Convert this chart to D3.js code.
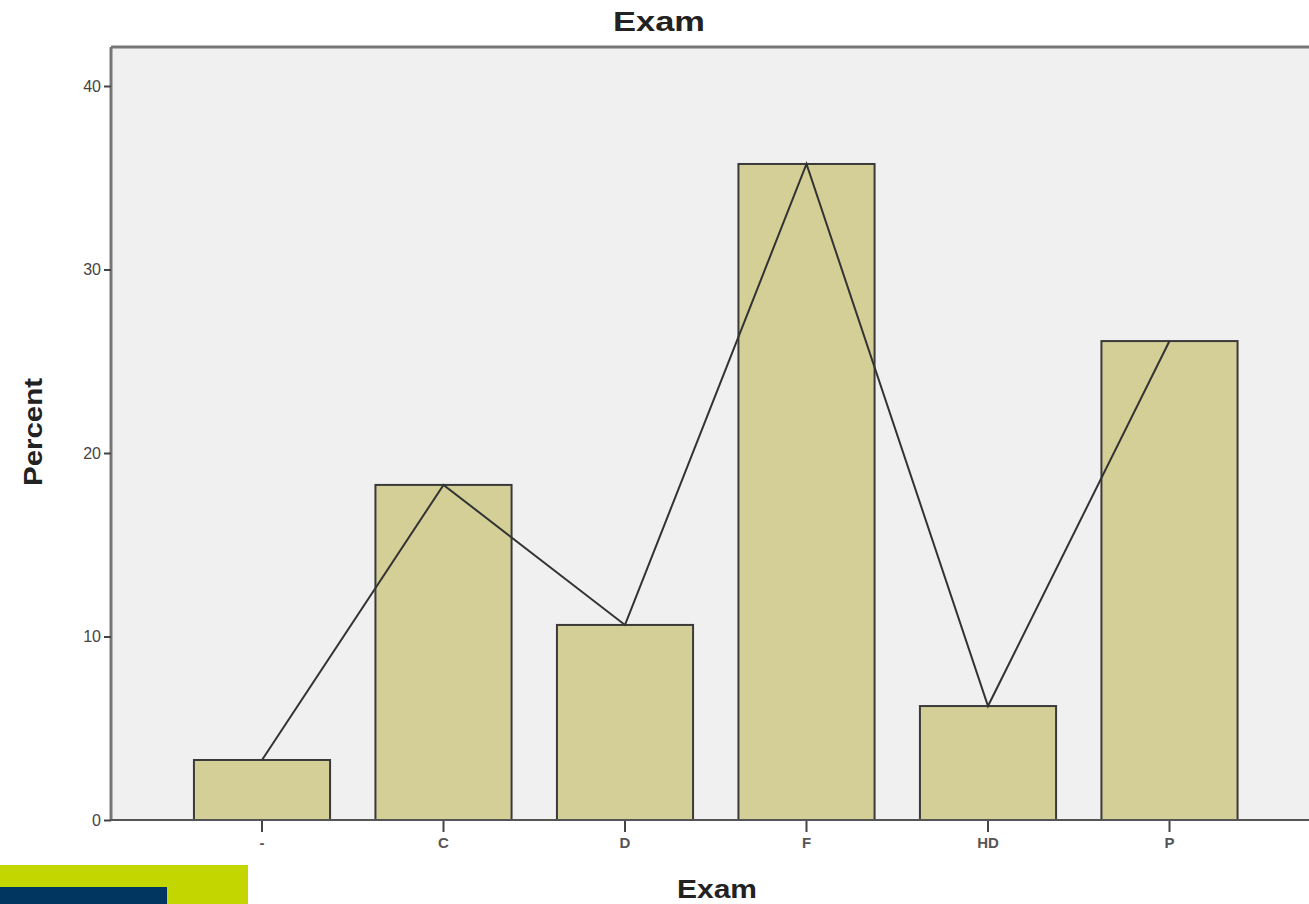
<!DOCTYPE html>
<html><head><meta charset="utf-8">
<script src="https://cdn.jsdelivr.net/npm/d3@7"></script>
<style>body{margin:0;background:#fff;} svg{display:block;font-family:"Liberation Sans",Arial,sans-serif;}</style>
</head><body>
<svg id="c" width="1309" height="904"></svg>
<script>
const categories = ["-", "C", "D", "F", "HD", "P"];
const percents = [3.27, 18.26, 10.63, 35.75, 6.21, 26.1];
const yTicks = [0, 10, 20, 30, 40];

const svg = d3.select("#c");
const plotL = 111, plotT = 47, plotB = 820, plotR = 1330;
const x = d3.scaleBand().domain(categories).range([171.25, 1260.25]).paddingInner(0.25).paddingOuter(0.125);
const y = d3.scaleLinear().domain([0, 40]).range([plotB, 86]);

svg.append("rect").attr("x", plotL).attr("y", plotT).attr("width", plotR - plotL).attr("height", plotB - plotT)
  .attr("fill", "#f0f0f0");

svg.append("g").selectAll("rect").data(categories).join("rect")
  .attr("x", d => x(d)).attr("width", x.bandwidth())
  .attr("y", (d, i) => y(percents[i])).attr("height", (d, i) => y(0) - y(percents[i]))
  .attr("fill", "#d3cf96").attr("stroke", "#3a3a3a").attr("stroke-width", 2);

const line = d3.line().x((d, i) => x(categories[i]) + x.bandwidth() / 2).y(d => y(d));
svg.append("path").datum(percents).attr("d", line).attr("fill", "none").attr("stroke", "#333").attr("stroke-width", 2);

// frame
svg.append("line").attr("x1", plotL).attr("x2", plotR).attr("y1", plotT).attr("y2", plotT).attr("stroke", "#777").attr("stroke-width", 3);
svg.append("line").attr("x1", plotL).attr("x2", plotL).attr("y1", plotT).attr("y2", plotB).attr("stroke", "#777").attr("stroke-width", 3);

// y axis
const ya = svg.append("g").attr("transform", `translate(${plotL},0)`)
  .call(d3.axisLeft(y).tickValues(yTicks).tickSize(7).tickPadding(3));
ya.select(".domain").remove();
ya.selectAll("line").attr("stroke", "#444").attr("stroke-width", 2);
ya.selectAll("text").attr("font-size", 16).attr("fill", "#444");

// x axis
const xa = svg.append("g").attr("transform", `translate(0,${plotB})`)
  .call(d3.axisBottom(x).tickSize(12).tickPadding(5));
xa.select(".domain").remove();
xa.selectAll("line").attr("stroke", "#444").attr("stroke-width", 2);
xa.selectAll("text").attr("font-size", 15).attr("font-weight", "bold").attr("fill", "#555");
svg.append("line").attr("x1", plotL).attr("x2", plotR).attr("y1", plotB).attr("y2", plotB).attr("stroke", "#555").attr("stroke-width", 2);

svg.append("text").attr("x", 659).attr("y", 31).attr("text-anchor", "middle").attr("font-size", 27).attr("font-weight", "bold").attr("fill", "#222")
  .attr("textLength", 92).attr("lengthAdjust", "spacingAndGlyphs").text("Exam");
svg.append("text").attr("x", 717).attr("y", 898).attr("text-anchor", "middle").attr("font-size", 26).attr("font-weight", "bold").attr("fill", "#222")
  .attr("textLength", 80).attr("lengthAdjust", "spacingAndGlyphs").text("Exam");
svg.append("text").attr("transform", "translate(42,432) rotate(-90)").attr("text-anchor", "middle").attr("font-size", 25).attr("font-weight", "bold").attr("fill", "#222")
  .attr("textLength", 108).attr("lengthAdjust", "spacingAndGlyphs").text("Percent");

// bottom decoration
svg.append("rect").attr("x", 0).attr("y", 865).attr("width", 248).attr("height", 39).attr("fill", "#c4d600");
svg.append("rect").attr("x", 0).attr("y", 887).attr("width", 167).attr("height", 17).attr("fill", "#003660");
</script>
</body></html>
